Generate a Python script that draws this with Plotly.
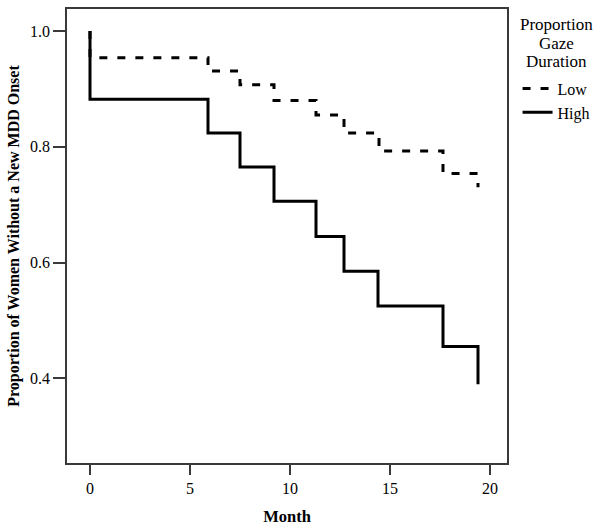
import plotly.graph_objects as go

# Kaplan-Meier style step data (month, proportion without new MDD onset)
low_month = [0, 0, 5.9, 7.5, 9.2, 11.3, 12.7, 14.45, 17.65, 19.4]
low_prop = [1.0, 0.954, 0.931, 0.907, 0.88, 0.855, 0.824, 0.793, 0.754, 0.73]

high_month = [0, 0, 5.9, 7.5, 9.2, 11.3, 12.7, 14.4, 17.65, 19.4]
high_prop = [1.0, 0.882, 0.824, 0.765, 0.706, 0.645, 0.585, 0.525, 0.455, 0.39]

x_ticks = [0, 5, 10, 15, 20]
y_ticks = [0.4, 0.6, 0.8, 1.0]
y_tick_text = ["0.4", "0.6", "0.8", "1.0"]

legend_title_lines = ["Proportion", "Gaze", "Duration"]

FONT = "Liberation Serif, Times New Roman, serif"
FRAME = "#3a3a3a"

fig = go.Figure()
fig.add_trace(go.Scatter(
    x=low_month, y=low_prop, mode="lines", name="Low",
    line=dict(shape="hv", color="black", width=3, dash="8px,10px"),
))
fig.add_trace(go.Scatter(
    x=high_month, y=high_prop, mode="lines", name="High",
    line=dict(shape="hv", color="black", width=3),
))

# legend title lines as annotations (tight line spacing like the reference)
title_y = [0.965, 0.923, 0.884]
for txt, yy in zip(legend_title_lines, title_y):
    fig.add_annotation(
        text=txt, xref="paper", yref="paper", x=1.1136, y=yy,
        xanchor="center", yanchor="middle", showarrow=False,
        font=dict(family=FONT, size=17, color="black"),
    )

fig.update_layout(
    width=602, height=530,
    margin=dict(l=67, r=95, t=7, b=67),
    paper_bgcolor="white", plot_bgcolor="white",
    font=dict(family=FONT, color="black", size=16),
    showlegend=True,
    legend=dict(
        x=1.024, y=0.862, xanchor="left", yanchor="top",
        font=dict(family=FONT, size=16, color="black"),
        itemwidth=30, tracegroupgap=0,
        bgcolor="rgba(0,0,0,0)",
    ),
    xaxis=dict(
        range=[-1.15, 20.85], tickmode="array", tickvals=x_ticks,
        ticks="outside", ticklen=10, tickwidth=1.5, tickcolor=FRAME,
        showline=True, linecolor=FRAME, linewidth=1.5, mirror=True,
        showgrid=False, zeroline=False,
        tickfont=dict(family=FONT, size=16, color="black"),
        title=dict(text="<b>Month</b>", standoff=14,
                   font=dict(family=FONT, size=16.5, color="black")),
    ),
    yaxis=dict(
        range=[0.254, 1.038], tickmode="array", tickvals=y_ticks, ticktext=y_tick_text,
        ticks="outside", ticklen=12, tickwidth=1.5, tickcolor=FRAME,
        showline=True, linecolor=FRAME, linewidth=1.5, mirror=True,
        showgrid=False, zeroline=False,
        tickfont=dict(family=FONT, size=16, color="black"),
        title=dict(text="<b>Proportion of Women Without a New MDD Onset</b>", standoff=6,
                   font=dict(family=FONT, size=16, color="black")),
    ),
)

fig.write_html("out.html", config={"displayModeBar": False},
               post_script="document.body.style.margin='0px';")
